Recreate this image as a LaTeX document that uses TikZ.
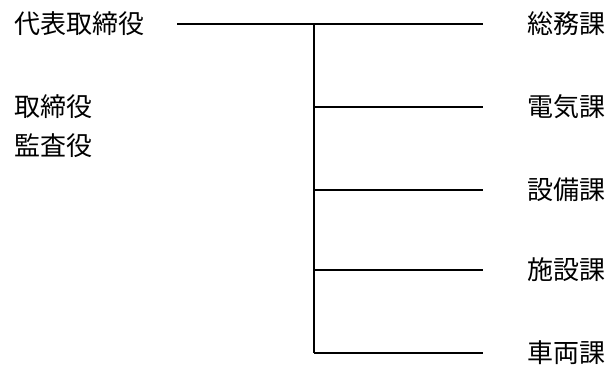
\documentclass[tikz,border=0pt]{standalone}
\usepackage{fontspec}
\setmainfont{Noto Sans CJK JP}
\begin{document}
\begin{tikzpicture}[x=1pt,y=-1pt,
  lbl/.style={inner sep=0pt,font=\fontsize{26}{30}\selectfont},
  lft/.style={lbl,anchor=west},
  rgt/.style={lbl,anchor=west},
  ln/.style={line width=1.5pt,black}]
\useasboundingbox (0,0) rectangle (609,365);
\node[lft] (ceo) at (14,24) {代表取締役};
\node[lft] (tori) at (14,107) {取締役};
\node[lft] (kansa) at (14,146) {監査役};
\node[rgt] (d1) at (527,24) {総務課};
\node[rgt] (d2) at (527,107) {電気課};
\node[rgt] (d3) at (527,190) {設備課};
\node[rgt] (d4) at (527,270) {施設課};
\node[rgt] (d5) at (527,353) {車両課};
\coordinate (s) at (177,24);
\coordinate (v1) at (314,24);
\coordinate (v2) at (314,107);
\coordinate (v3) at (314,190);
\coordinate (v4) at (314,270);
\coordinate (v5) at (314,353);
\coordinate (e1) at (483,24);
\coordinate (e2) at (483,107);
\coordinate (e3) at (483,190);
\coordinate (e4) at (483,270);
\coordinate (e5) at (483,353);
\draw[ln] (s) -- (e1);
\draw[ln] (v1) -- (v5);
\draw[ln] (v2) -- (e2);
\draw[ln] (v3) -- (e3);
\draw[ln] (v4) -- (e4);
\draw[ln] (v5) -- (e5);
\end{tikzpicture}
\end{document}
